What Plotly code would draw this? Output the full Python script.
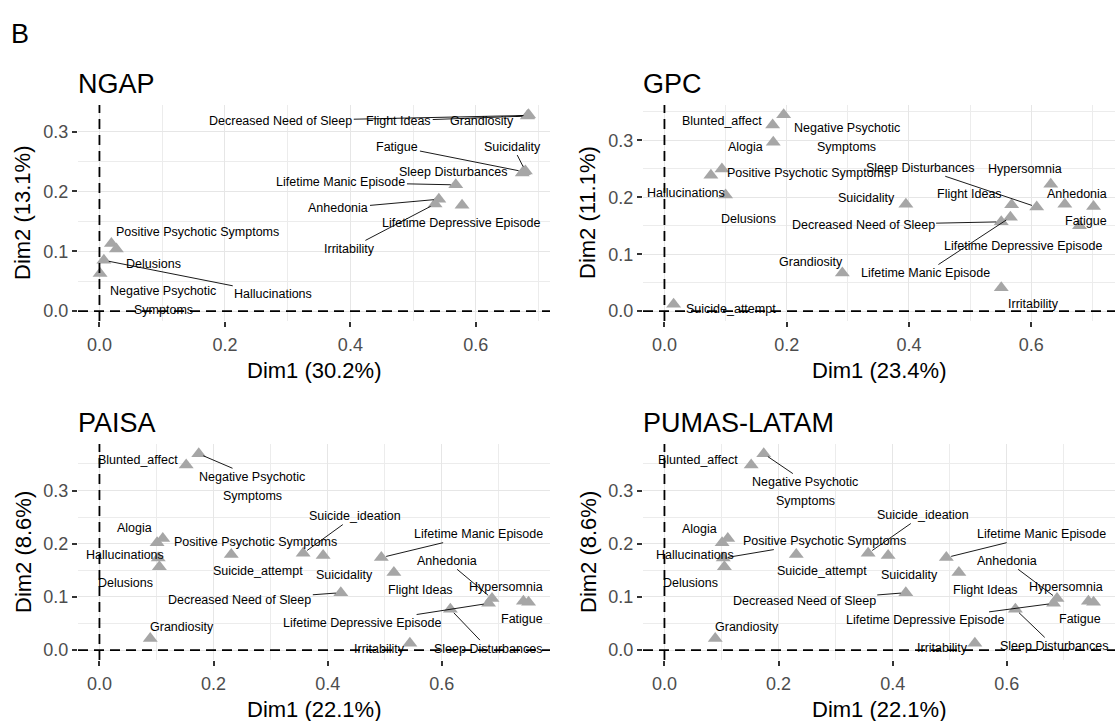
import plotly.graph_objects as go

W, H = 1117, 721
FONT = "Liberation Sans, Arial, Helvetica, sans-serif"

# ------------------------------------------------------------------ data
ngap_vars = ["Decreased Need of Sleep", "Flight Ideas", "Grandiosity", "Fatigue",
             "Suicidality", "Sleep Disturbances", "Lifetime Manic Episode", "Anhedonia",
             "Irritability", "Lifetime Depressive Episode", "Positive Psychotic Symptoms",
             "Delusions", "Hallucinations", "Negative Psychotic Symptoms"]
ngap_dim1 = [0.683, 0.682, 0.684, 0.676, 0.679, 0.674, 0.568, 0.541, 0.535, 0.578,
             0.019, 0.027, 0.007, 0.001]
ngap_dim2 = [0.327, 0.326, 0.328, 0.233, 0.234, 0.231, 0.211, 0.187, 0.179, 0.177,
             0.113, 0.104, 0.085, 0.063]

gpc_vars = ["Blunted_affect", "Negative Psychotic Symptoms", "Alogia",
            "Positive Psychotic Symptoms", "Hallucinations", "Delusions", "Suicidality",
            "Suicide_attempt", "Grandiosity", "Irritability", "Flight Ideas",
            "Decreased Need of Sleep", "Lifetime Manic Episode", "Sleep Disturbances",
            "Hypersomnia", "Anhedonia", "Fatigue", "Lifetime Depressive Episode"]
gpc_dim1 = [0.177, 0.195, 0.178, 0.094, 0.076, 0.100, 0.395, 0.015, 0.291, 0.551,
            0.568, 0.551, 0.566, 0.609, 0.632, 0.655, 0.702, 0.679]
gpc_dim2 = [0.327, 0.345, 0.297, 0.250, 0.239, 0.204, 0.188, 0.012, 0.067, 0.041,
            0.187, 0.157, 0.165, 0.183, 0.223, 0.188, 0.184, 0.150]

latam_vars = ["Blunted_affect", "Negative Psychotic Symptoms", "Alogia", "Hallucinations",
              "Positive Psychotic Symptoms", "Delusions", "Suicide_attempt",
              "Suicide_ideation", "Suicidality", "Lifetime Manic Episode", "Flight Ideas",
              "Decreased Need of Sleep", "Anhedonia", "Lifetime Depressive Episode",
              "Hypersomnia", "Fatigue", "Sleep Disturbances", "Irritability", "Grandiosity"]
paisa_dim1 = [0.152, 0.174, 0.111, 0.101, 0.103, 0.105, 0.231, 0.357, 0.392, 0.494,
              0.516, 0.423, 0.688, 0.682, 0.743, 0.752, 0.615, 0.544, 0.089]
paisa_dim2 = [0.348, 0.369, 0.210, 0.202, 0.173, 0.157, 0.180, 0.182, 0.178, 0.174,
              0.146, 0.108, 0.097, 0.088, 0.092, 0.090, 0.077, 0.013, 0.022]
pumas_dim1 = paisa_dim1
pumas_dim2 = paisa_dim2

titles = ["NGAP", "GPC", "PAISA", "PUMAS-LATAM"]
xlabels = ["Dim1 (30.2%)", "Dim1 (23.4%)", "Dim1 (22.1%)", "Dim1 (22.1%)"]
ylabels = ["Dim2 (13.1%)", "Dim2 (11.1%)", "Dim2 (8.6%)", "Dim2 (8.6%)"]

# ------------------------------------------------------------------ label layout
# name -> (label x, label y, draw segment)
ngap_lab = {
    "Decreased Need of Sleep": (0.289, 0.318, True),
    "Flight Ideas": (0.477, 0.318, True),
    "Grandiosity": (0.610, 0.318, True),
    "Fatigue": (0.475, 0.275, True),
    "Suicidality": (0.659, 0.275, True),
    "Sleep Disturbances": (0.564, 0.232, False),
    "Lifetime Manic Episode": (0.385, 0.215, True),
    "Anhedonia": (0.381, 0.172, True),
    "Lifetime Depressive Episode": (0.577, 0.148, False),
    "Irritability": (0.398, 0.104, True),
    "Positive Psychotic Symptoms": (0.156, 0.133, False),
    "Delusions": (0.086, 0.079, False),
    "Hallucinations": (0.277, 0.029, True),
    "Negative Psychotic Symptoms": (0.102, 0.018, False),
}
gpc_lab = {
    "Blunted_affect": (0.094, 0.335, False),
    "Negative Psychotic Symptoms": (0.298, 0.305, False),
    "Alogia": (0.132, 0.288, False),
    "Positive Psychotic Symptoms": (0.236, 0.243, False),
    "Hallucinations": (0.036, 0.208, False),
    "Delusions": (0.138, 0.162, False),
    "Sleep Disturbances": (0.418, 0.252, True),
    "Hypersomnia": (0.590, 0.250, False),
    "Suicidality": (0.331, 0.198, False),
    "Flight Ideas": (0.499, 0.205, False),
    "Anhedonia": (0.675, 0.205, False),
    "Decreased Need of Sleep": (0.325, 0.152, True),
    "Fatigue": (0.690, 0.159, False),
    "Lifetime Depressive Episode": (0.587, 0.115, False),
    "Grandiosity": (0.239, 0.087, False),
    "Lifetime Manic Episode": (0.427, 0.067, True),
    "Suicide_attempt": (0.109, 0.003, False),
    "Irritability": (0.603, 0.012, False),
}
paisa_lab = {
    "Blunted_affect": (0.067, 0.358, False),
    "Negative Psychotic Symptoms": (0.268, 0.308, True),
    "Suicide_ideation": (0.447, 0.252, True),
    "Alogia": (0.062, 0.229, False),
    "Positive Psychotic Symptoms": (0.274, 0.204, False),
    "Lifetime Manic Episode": (0.664, 0.218, True),
    "Hallucinations": (0.045, 0.179, False),
    "Anhedonia": (0.609, 0.168, True),
    "Suicide_attempt": (0.277, 0.148, False),
    "Suicidality": (0.430, 0.141, False),
    "Delusions": (0.045, 0.127, False),
    "Flight Ideas": (0.563, 0.113, False),
    "Hypersomnia": (0.712, 0.119, False),
    "Decreased Need of Sleep": (0.246, 0.094, True),
    "Fatigue": (0.740, 0.058, False),
    "Lifetime Depressive Episode": (0.460, 0.051, True),
    "Grandiosity": (0.145, 0.044, False),
    "Irritability": (0.491, 0.003, False),
    "Sleep Disturbances": (0.681, 0.003, True),
}
pumas_lab = {
    "Blunted_affect": (0.059, 0.358, False),
    "Negative Psychotic Symptoms": (0.247, 0.298, True),
    "Suicide_ideation": (0.453, 0.254, True),
    "Alogia": (0.062, 0.227, False),
    "Positive Psychotic Symptoms": (0.280, 0.205, True),
    "Lifetime Manic Episode": (0.660, 0.218, True),
    "Hallucinations": (0.054, 0.179, False),
    "Anhedonia": (0.600, 0.168, True),
    "Suicide_attempt": (0.276, 0.148, False),
    "Suicidality": (0.429, 0.141, False),
    "Delusions": (0.045, 0.127, False),
    "Flight Ideas": (0.562, 0.113, False),
    "Hypersomnia": (0.704, 0.119, False),
    "Decreased Need of Sleep": (0.245, 0.093, True),
    "Fatigue": (0.729, 0.058, False),
    "Lifetime Depressive Episode": (0.456, 0.056, True),
    "Grandiosity": (0.144, 0.044, False),
    "Irritability": (0.487, 0.005, False),
    "Sleep Disturbances": (0.682, 0.008, True),
}

panels = [
    (ngap_vars, ngap_dim1, ngap_dim2, ngap_lab),
    (gpc_vars, gpc_dim1, gpc_dim2, gpc_lab),
    (latam_vars, paisa_dim1, paisa_dim2, paisa_lab),
    (latam_vars, pumas_dim1, pumas_dim2, pumas_lab),
]

# pixel boxes of plot areas (left, right) / (top, bottom)
col_px = [(78, 550), (643, 1115)]
row_px = [(105, 321), (444, 660)]


def expand(vals):
    lo, hi = min(min(vals), 0.0), max(max(vals), 0.0)
    d = hi - lo
    return [lo - 0.05 * d, hi + 0.05 * d]


fig = go.Figure()
annotations = []
shapes = []
layout_axes = {}

for i, (names, xs, ys, labs) in enumerate(panels):
    r, c = divmod(i, 2)
    x0p, x1p = col_px[c]
    y0p, y1p = row_px[r]
    xn = "x" if i == 0 else f"x{i + 1}"
    yn = "y" if i == 0 else f"y{i + 1}"
    xr, yr = expand(xs), expand(ys)
    ppu_y = (y1p - y0p) / (yr[1] - yr[0])

    common = dict(showgrid=True, gridcolor="#e6e6e6", gridwidth=1.4, zeroline=False,
                  showline=False, ticks="outside", ticklen=5, tickwidth=1.5,
                  tickcolor="#333333", tickformat=".1f",
                  tickfont=dict(size=18, color="#4d4d4d", family=FONT))
    layout_axes["xaxis" if i == 0 else f"xaxis{i + 1}"] = dict(
        domain=[x0p / W, x1p / W], range=xr, anchor=yn, tick0=0, dtick=0.2,
        ticklabelstandoff=2,
        minor=dict(tick0=0, dtick=0.1, showgrid=True, gridcolor="#ececec", gridwidth=0.7),
        **common)
    layout_axes["yaxis" if i == 0 else f"yaxis{i + 1}"] = dict(
        domain=[1 - y1p / H, 1 - y0p / H], range=yr, anchor=xn, tick0=0, dtick=0.1,
        minor=dict(tick0=0, dtick=0.05, showgrid=True, gridcolor="#ececec", gridwidth=0.7),
        **common)

    # reference dashed lines at 0
    shapes.append(dict(type="line", xref=xn, yref=f"{yn} domain", x0=0, x1=0, y0=0, y1=1,
                       line=dict(color="black", width=1.8, dash="10px,6px")))
    shapes.append(dict(type="line", xref=f"{xn} domain", yref=yn, x0=0, x1=1, y0=0, y1=0,
                       line=dict(color="black", width=1.8, dash="10px,6px")))

    fig.add_trace(go.Scatter(
        x=xs, y=ys, text=names, mode="markers", xaxis=xn, yaxis=yn, cliponaxis=False,
        marker=dict(symbol="triangle-up", size=13, color="#a6a6a6", line=dict(width=0)),
        hovertemplate="%{text}<br>%{x:.3f}, %{y:.3f}<extra></extra>"))

    for name, px, py in zip(names, xs, ys):
        lx, ly, seg = labs[name]
        if name == "Negative Psychotic Symptoms":
            parts = [("Negative Psychotic", ly + 9.5 / ppu_y, seg), ("Symptoms", ly - 9.5 / ppu_y, False)]
        else:
            parts = [(name, ly, seg)]
        for txt, tyy, sg in parts:
            a = dict(text=txt, xref=xn, yref=yn, font=dict(size=12.5, color="black", family=FONT),
                     borderpad=1)
            if sg:
                a.update(x=px, y=py, ax=lx, ay=tyy, axref=xn, ayref=yn, showarrow=True,
                         arrowhead=0, arrowwidth=0.9, arrowcolor="black", standoff=5)
            else:
                a.update(x=lx, y=tyy, showarrow=False)
            annotations.append(a)

    # titles
    annotations.append(dict(text=titles[i], xref="paper", yref="paper", x=(x0p - 2) / W,
                            y=1 - (y0p - 21) / H, xanchor="left", yanchor="middle",
                            showarrow=False, font=dict(size=27, color="black", family=FONT)))
    annotations.append(dict(text=xlabels[i], xref="paper", yref="paper",
                            x=(x0p + x1p) / 2 / W, y=1 - (y1p + 49) / H,
                            xanchor="center", yanchor="middle", showarrow=False,
                            font=dict(size=22, color="black", family=FONT)))
    annotations.append(dict(text=ylabels[i], xref="paper", yref="paper",
                            x=(x0p - 55) / W, y=1 - (y0p + y1p) / 2 / H, textangle=-90,
                            xanchor="center", yanchor="middle", showarrow=False,
                            font=dict(size=22, color="black", family=FONT)))

annotations.append(dict(text="B", xref="paper", yref="paper", x=9 / W, y=1 - 34 / H,
                        xanchor="left", yanchor="middle", showarrow=False,
                        font=dict(size=27, color="black", family=FONT)))

fig.update_layout(width=W, height=H, margin=dict(l=0, r=0, t=0, b=0),
                  paper_bgcolor="white", plot_bgcolor="white", showlegend=False,
                  font=dict(family=FONT), annotations=annotations, shapes=shapes,
                  **layout_axes)

fig.write_html("out.html")
